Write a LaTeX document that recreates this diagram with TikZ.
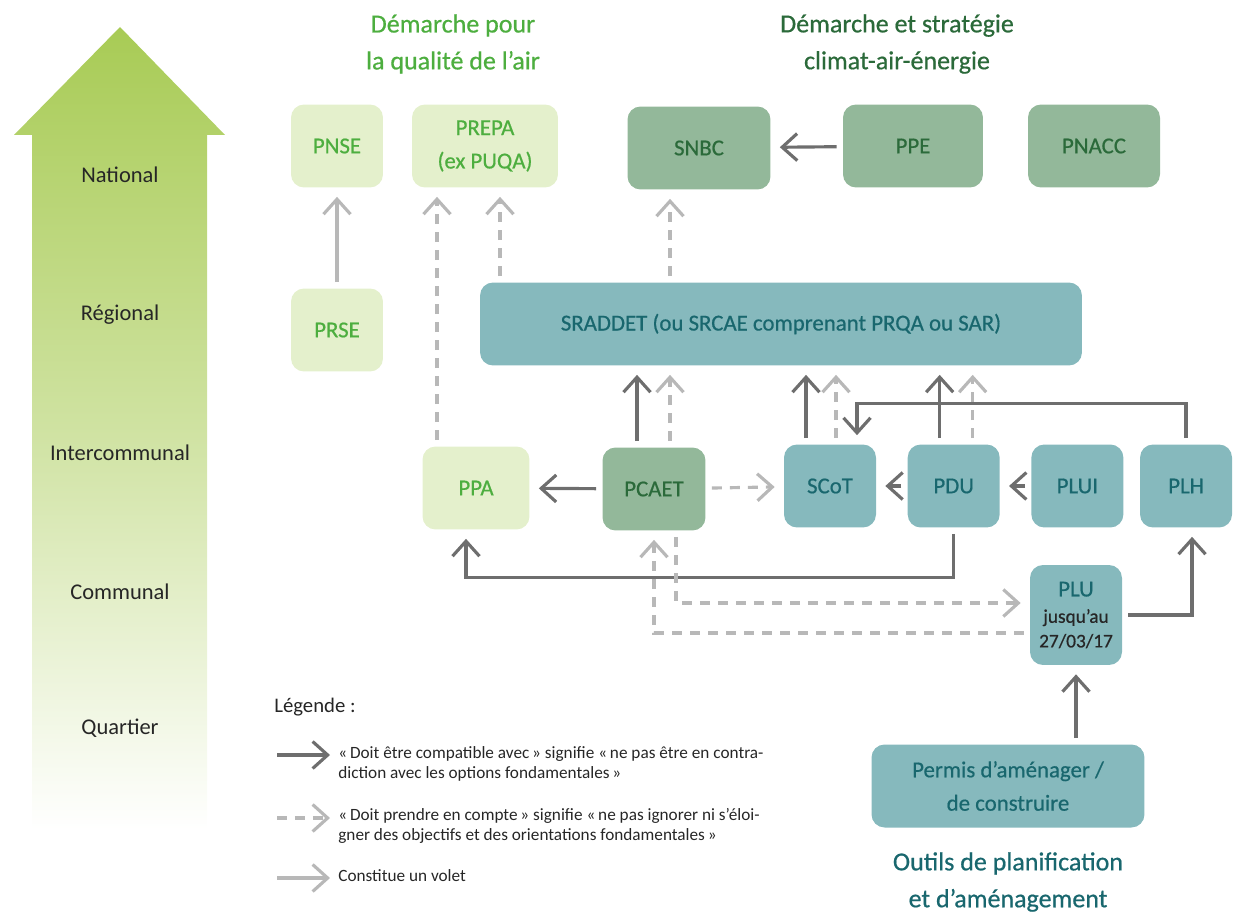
\documentclass[tikz,border=0pt]{standalone}
\usepackage{fontspec}
\setmainfont{Carlito}
\newfontfamily\moyen[FakeBold=0.6]{Carlito}
\usetikzlibrary{arrows.meta,positioning}

\definecolor{airfond}{HTML}{E4F0CC}
\definecolor{airtexte}{HTML}{4DAE3F}
\definecolor{climfond}{HTML}{93B89A}
\definecolor{climtexte}{HTML}{2B6A3A}
\definecolor{planfond}{HTML}{86B9BD}
\definecolor{plantexte}{HTML}{19676E}
\definecolor{fortgris}{HTML}{6E6E6E}
\definecolor{legergris}{HTML}{B8B8B8}
\definecolor{flechevert}{HTML}{A8CB55}

\newcommand{\petit}{\fontsize{11}{14}\selectfont\color{black!85}}

\tikzset{
  boite/.style={rounded corners=0.26cm, minimum height=1.66cm, minimum width=1.84cm,
    inner sep=0pt, align=center, font=\moyen\fontsize{13}{19}\selectfont},
  air/.style={boite, fill=airfond, text=airtexte},
  clim/.style={boite, fill=climfond, text=climtexte},
  plan/.style={boite, fill=planfond, text=plantexte},
  titre/.style={align=center, font=\moyen\fontsize{14.8}{21}\selectfont},
  niveau/.style={font=\fontsize{12.8}{15}\selectfont, text=black!85},
  legtexte/.style={align=left, inner sep=0pt, anchor=north west,
    font=\fontsize{9.8}{11.6}\selectfont, text=black!85},
  pointe/.style={-{Straight Barb[length=3mm,width=5.4mm]}},
  fort/.style={draw=fortgris, line width=1.8pt, pointe},
  prendre/.style={draw=legergris, line width=1.8pt, dash pattern=on 2mm off 1.6mm, pointe},
  volet/.style={draw=legergris, line width=1.8pt, pointe},
  lien/.style={shorten >=0.18cm, shorten <=0.12cm}
}

\begin{document}
\begin{tikzpicture}[x=0.02cm,y=-0.02cm]
  \useasboundingbox (0,0) rectangle (1234,919);

  % echelle territoriale
  \shade[top color=flechevert, bottom color=white, middle color=flechevert!55]
    (32,830) -- (32,135) -- (14,135) -- (120,27) -- (225,135) -- (207,135) -- (207,830) -- cycle;
  \node (national) [niveau] at (120,175) {National};
  \node (regional) [niveau] at (120,315) {Régional};
  \node (intercom) [niveau] at (120,453) {Intercommunal};
  \node (communal) [niveau] at (120,592) {Communal};
  \node (quartier) [niveau] at (120,728) {Quartier};

  % titres
  \node (titreair) [titre, text=airtexte] at (453,44) {Démarche pour\\la qualité de l’air};
  \node (titreclim) [titre, text=climtexte] at (897,44) {Démarche et stratégie\\climat-air-énergie};

  % boites
  \node (pnse) [air] at (337,146) {PNSE};
  \node (prepa) [air, minimum width=2.92cm] at (485,146) {PREPA\\(ex PUQA)};
  \node (snbc) [clim, minimum width=2.86cm] at (699,148) {SNBC};
  \node (ppe) [clim, minimum width=2.8cm] at (913,146) {PPE};
  \node (pnacc) [clim, minimum width=2.64cm] at (1094,146) {PNACC};
  \node (prse) [air] at (337,330) {PRSE};
  \node (sraddet) [plan, minimum width=12.04cm] at (781,324) {SRADDET (ou SRCAE comprenant PRQA ou SAR)};
  \node (ppa) [air, minimum width=2.14cm] at (476,488) {PPA};
  \node (pcaet) [clim, minimum width=2.06cm] at (654,489) {PCAET};
  \node (scot) [plan] at (830,486) {SCoT};
  \node (pdu) [plan, right=0.62cm of scot] {PDU};
  \node (plui) [plan, right=0.62cm of pdu] {PLUI};
  \node (plh) [plan, right=0.32cm of plui] {PLH};
  \node (plu) [plan, minimum height=2cm, font=\moyen\fontsize{13}{14}\selectfont] at (1076,615)
    {PLU\\[1pt]\petit jusqu’au\\\petit 27/03/17};
  \node (permis) [plan, minimum width=5.46cm] at (1008,786) {Permis d’aménager /\\de construire};
  \node (outils) [titre, text=plantexte] at (1008,882) {Outils de planification\\et d’aménagement};

  % liens
  \draw[volet, lien] (prse) -- (pnse);
  \draw[prendre, lien] (ppa.north) ++(-39,0) coordinate (t) -- (t |- prepa.south);
  \draw[prendre, lien] (prepa.south) ++(15,0) coordinate (t) (t |- sraddet.north) -- (t);
  \draw[prendre, lien] (snbc.south) ++(-29,0) coordinate (t) (t |- sraddet.north) -- (t);
  \draw[fort, lien] (ppe) -- (snbc);
  \draw[fort, lien] (pcaet.north) ++(-17,0) coordinate (t) -- (t |- sraddet.south);
  \draw[prendre, lien] (pcaet.north) ++(16,0) coordinate (t) -- (t |- sraddet.south);
  \draw[fort, lien] (scot.north) ++(-24,0) coordinate (t) -- (t |- sraddet.south);
  \draw[prendre, lien] (scot.north) ++(6,0) coordinate (t) -- (t |- sraddet.south);
  \draw[fort, lien] (pdu.north) ++(-14,0) coordinate (t) -- (t |- sraddet.south);
  \draw[prendre, lien] (pdu.north) ++(19,0) coordinate (t) -- (t |- sraddet.south);
  \draw[fort, lien] (scot.north) ++(27,-41) coordinate (k) (plh.north) |- (k) -- (k |- scot.north);
  \draw[fort, lien] (pcaet) -- (ppa);
  \draw[prendre, lien] (pcaet) -- (scot);
  \draw[fort, lien] (pdu) -- (scot);
  \draw[fort, lien] (plui) -- (pdu);
  \draw[fort, lien] (pdu.south) -- ++(0,50) -| ([xshift=-0.2cm]ppa.south);
  \draw[prendre, lien] ([xshift=0.44cm]pcaet.south) |- ([yshift=0.24cm]plu.west);
  \draw[prendre, lien] ([yshift=-0.36cm]plu.west) -| (pcaet.south);
  \draw[fort, lien] (plu.east) -| ([xshift=0.12cm]plh.south);
  \draw[fort, lien] (plu.south |- permis.north) -- (plu.south);

  % legende
  \node (legende) [anchor=west, inner sep=0pt, font=\fontsize{11.8}{14}\selectfont, text=black!85]
    at (274,707) {Légende :};
  \coordinate (leg1) at (277,755);
  \coordinate (leg2) at (277,818);
  \coordinate (leg3) at (277,878);
  \draw[fort] (leg1) -- ++(53,0);
  \draw[prendre] (leg2) -- ++(53,0);
  \draw[volet] (leg3) -- ++(53,0);
  \node (txt1) [legtexte] at (338,746)
    {«\,Doit être compatible avec\,» signifie «\,ne pas être en contra-\\diction avec les options fondamentales\,»};
  \node (txt2) [legtexte] at (338,808)
    {«\,Doit prendre en compte\,» signifie «\,ne pas ignorer ni s’éloi-\\gner des objectifs et des orientations fondamentales\,»};
  \node (txt3) [legtexte] at (338,869) {Constitue un volet};
\end{tikzpicture}
\end{document}
